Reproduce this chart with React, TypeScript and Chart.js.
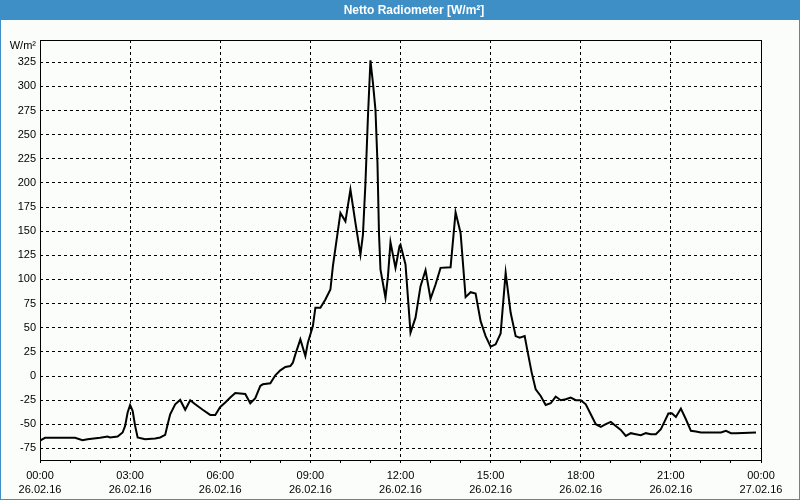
import React, { useEffect, useRef } from 'react';
import { Chart, registerables } from 'chart.js';

Chart.register(...registerables);

// time of day in minutes since 26.02.16 00:00
const timesMin = [
  0, 10, 70, 85, 95, 120, 135, 140, 155, 165, 170, 175, 180, 185, 190, 195, 210, 230,
  240, 250, 255, 260, 270, 280, 290, 300, 310, 325, 340, 350, 360, 370, 380, 390, 410, 420, 430, 440, 445, 460, 470, 480,
  490, 500, 505, 510, 520, 530, 535, 545, 550, 560, 570, 580, 585, 600, 610, 620, 630, 640, 645, 650, 655, 660, 662, 665, 670, 674, 677, 680, 690, 695, 700, 710, 718,
  720, 730, 740, 750, 760, 770, 780, 790, 800, 820, 830, 840, 850, 860, 870, 880, 890, 900, 910, 920, 930, 940, 950, 958,
  968, 973, 982, 990, 1000, 1010, 1020, 1030, 1040, 1050, 1060, 1070, 1080, 1090, 1100, 1110, 1120, 1130, 1140, 1150, 1160, 1170, 1180, 1190, 1200,
  1210, 1220, 1230, 1240, 1248, 1255, 1262, 1270, 1280, 1290, 1300, 1310, 1320, 1360, 1370, 1380, 1390, 1430,
];

// Netto Radiometer [W/m²]
const values = [
  -67, -64, -64, -66.5, -65.5, -64, -62.7, -63.7, -62.7, -58.5, -51.7, -37.8, -30, -36, -51.7, -63.7, -65.4, -64.7,
  -63.7, -61, -50, -39.6, -29.3, -24.8, -35, -25.1, -29.3, -35, -40.3, -40.3, -32, -27.5, -22.3, -17.6, -18.6, -28.2, -23, -10.3, -8.6, -7.5, 0.7, 5.9,
  9.3, 10.3, 13.8, 22.4, 37.9, 20.7, 34.5, 51.7, 70.7, 70.7, 79.3, 89.6, 113.7, 168.9, 160.2, 193, 158.6, 125.8, 146.5, 199.9, 268.7, 327, 317, 303.3, 275.7, 220.6, 148.2, 110.3, 81, 103.4, 138.5, 112, 134.4,
  136, 115.5, 44.9, 60.4, 93, 109.6, 80, 94.8, 112, 112.7, 169.5, 148.2, 81.7, 86.8, 85.5, 56.8, 41.3, 30.4, 32.8, 44.1, 106.9, 65.5, 41.3, 39.7,
  41.3, 27.6, 3.5, -13.7, -20.7, -30, -28.2, -21.3, -25.1, -24.1, -22.3, -25.1, -25.1, -29.3, -39.6, -49.9, -52.7, -49.9, -47.5, -51.7, -55.8, -62, -59.2, -60.3, -61.3,
  -59.2, -60.3, -60.3, -55.1, -46.5, -38.9, -38.6, -42.4, -33.7, -44.8, -56.8, -57.5, -58.5, -58.5, -56.8, -59.2, -59.2, -58.5,
];

const yTickValues = [-75, -50, -25, 0, 25, 50, 75, 100, 125, 150, 175, 200, 225, 250, 275, 300, 325];
const xTickTimes = ['00:00', '03:00', '06:00', '09:00', '12:00', '15:00', '18:00', '21:00', '00:00'];
const xTickDates = ['26.02.16', '26.02.16', '26.02.16', '26.02.16', '26.02.16', '26.02.16', '26.02.16', '26.02.16', '27.02.16'];

const TITLE = 'Netto Radiometer [W/m²]';
const UNIT = 'W/m²';
const BLUE = '#3d8fc6';
const BG = '#fbfdfb';
const FONT = '"Liberation Sans", Arial, sans-serif';

const framePlugin = {
  id: 'frame',
  beforeDraw(chart: any) {
    const ctx = chart.ctx;
    const w = chart.width;
    const h = chart.height;
    ctx.save();
    ctx.fillStyle = BG;
    ctx.fillRect(0, 0, w, h);
    ctx.fillStyle = BLUE;
    ctx.fillRect(0, 0, w, 20);
    ctx.strokeStyle = BLUE;
    ctx.lineWidth = 1;
    ctx.strokeRect(0.5, 0.5, w - 1, h - 1);
    ctx.fillStyle = '#ffffff';
    ctx.font = 'bold 12px ' + FONT;
    ctx.textAlign = 'center';
    ctx.textBaseline = 'middle';
    ctx.fillText(TITLE, 414, 10.5);
    ctx.fillStyle = '#000000';
    ctx.font = '11px ' + FONT;
    ctx.textAlign = 'right';
    ctx.fillText(UNIT, 36, 46);
    ctx.restore();
  },
  beforeDatasetsDraw(chart: any) {
    const { left, right, top, bottom } = chart.chartArea;
    const ctx = chart.ctx;
    ctx.save();
    ctx.strokeStyle = '#000000';
    ctx.lineWidth = 1;
    ctx.strokeRect(Math.round(left) + 0.5, Math.round(top) + 0.5, Math.round(right - left), Math.round(bottom - top));
    ctx.restore();
  },
};

export default function App() {
  const ref = useRef<HTMLCanvasElement>(null);

  useEffect(() => {
    document.body.style.margin = '0';
    const canvas = ref.current;
    if (!canvas) return;
    const points = timesMin.map((t, i) => ({ x: t, y: values[i] }));
    const chart = new Chart(canvas, {
      type: 'line',
      data: {
        datasets: [
          {
            data: points,
            borderColor: '#000000',
            borderWidth: 2,
            pointRadius: 0,
            tension: 0,
            fill: false,
          },
        ],
      },
      options: {
        animation: false,
        responsive: false,
        devicePixelRatio: 1,
        layout: { padding: { top: 40, right: 39, left: 0, bottom: 0 } },
        plugins: {
          legend: { display: false },
          title: { display: false },
          tooltip: { enabled: false },
        },
        scales: {
          x: {
            type: 'linear',
            min: 0,
            max: 1440,
            afterFit(scale: any) {
              scale.height = 40;
            },
            afterBuildTicks(scale: any) {
              const t = [];
              for (let v = 0; v <= 1440; v += 60) t.push({ value: v });
              scale.ticks = t;
            },
            ticks: {
              autoSkip: false,
              maxRotation: 0,
              minRotation: 0,
              padding: 6,
              color: '#000000',
              font: { family: FONT, size: 11, lineHeight: '14px' },
              callback(value: any) {
                const v = Number(value);
                if (v % 180 !== 0) return '';
                const i = v / 180;
                return [xTickTimes[i], xTickDates[i]];
              },
            },
            grid: {
              drawTicks: true,
              tickLength: 3,
              tickColor: '#000000',
              lineWidth: 1,
              color(ctx: any) {
                const v = ctx.tick ? ctx.tick.value : 0;
                return v % 180 === 0 && v !== 0 && v !== 1440 ? '#000000' : 'rgba(0,0,0,0)';
              },
            },
            border: { display: false, dash: [3, 3] },
          },
          y: {
            type: 'linear',
            min: -87,
            max: 348,
            afterFit(scale: any) {
              scale.width = 40;
            },
            afterBuildTicks(scale: any) {
              scale.ticks = yTickValues.map((v) => ({ value: v }));
            },
            ticks: {
              padding: 4,
              color: '#000000',
              font: { family: FONT, size: 11 },
              callback(value: any) {
                return String(value);
              },
            },
            grid: {
              drawTicks: false,
              color: '#000000',
              lineWidth: 1,
            },
            border: { display: false, dash: [3, 3] },
          },
        },
      },
      plugins: [framePlugin],
    } as any);
    return () => chart.destroy();
  }, []);

  return (
    <div style={{ width: 800, height: 500 }}>
      <canvas ref={ref} width={800} height={500} style={{ display: 'block', width: 800, height: 500 }} />
    </div>
  );
}
